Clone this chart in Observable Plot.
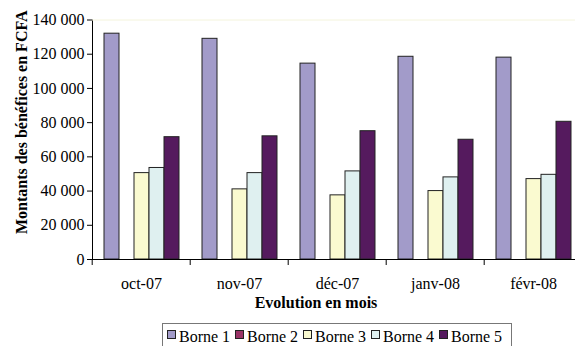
<!DOCTYPE html>
<html>
<head>
<meta charset="utf-8">
<script src="https://cdn.jsdelivr.net/npm/d3@7"></script>
<script src="https://cdn.jsdelivr.net/npm/@observablehq/plot@0.6"></script>
<style>
  html, body { margin: 0; padding: 0; background: #fff; }
  #wrap { position: relative; width: 575px; height: 346px; overflow: hidden;
          font-family: "Liberation Serif", serif; color: #000; }
  #wrap svg { position: absolute; left: 0; top: 0; font-family: "Liberation Serif", serif !important; }
  #wrap svg text { font-family: "Liberation Serif", serif !important; }
  .xtitle { position: absolute; left: 0; width: 632px; top: 294.6px; text-align: center;
            font-weight: bold; font-size: 16px; line-height: 16px; white-space: nowrap; }
  .legend { position: absolute; left: 161.5px; top: 322.5px; width: 350px; height: 30px;
            box-sizing: border-box; border: 1px solid #777; background: #fff;
            padding: 5.1px 0 0 4.5px; font-size: 16px; line-height: 16px; white-space: nowrap; }
  .legend .item { display: inline-block; margin-right: 4.9px; }
  .legend .sw { display: inline-block; width: 9px; height: 9px; box-sizing: border-box;
                border: 1px solid #222; margin-right: 3px; vertical-align: 3px; }
</style>
</head>
<body>
<div id="wrap"></div>
<script>
// Monthly profit per terminal (FCFA)
const months = ["oct-07", "nov-07", "déc-07", "janv-08", "févr-08"];
const series = ["Borne 1", "Borne 2", "Borne 3", "Borne 4", "Borne 5"];
const borne1 = [132000, 129000, 114500, 118500, 118000];
const borne2 = [0, 0, 0, 0, 0];
const borne3 = [50500, 41000, 37500, 40000, 47000];
const borne4 = [53500, 50500, 51500, 48000, 49500];
const borne5 = [71500, 72000, 75000, 70000, 80500];
const yTicks = [0, 20000, 40000, 60000, 80000, 100000, 120000, 140000];
const colors = ["#a29bc9", "#993366", "#fafad0", "#dff0f0", "#551a5e"];

const yTitle = "Montants des bénéfices en FCFA";
const xTitle = "Evolution en mois";

const values = [borne1, borne2, borne3, borne4, borne5];
const rows = months.flatMap((m, i) => series.map((s, j) => ({month: m, serie: s, value: values[j][i]})));

const fmt = d => d3.format(",")(d).replace(/,/g, " ");

const width = 575, marginLeft = 90, marginRight = -8;
const step = (width - marginLeft - marginRight) / months.length;

const chart = Plot.plot({
  width,
  height: 295,
  marginLeft,
  marginRight,
  marginTop: 19.5,
  marginBottom: 36,
  style: {fontFamily: "Liberation Serif, serif", fontSize: "16px", color: "#000", background: "white"},
  fx: {domain: months, padding: 0, label: null},
  x: {domain: series, paddingInner: 0, paddingOuter: 0.745, axis: null},
  y: {domain: [0, 140000], ticks: yTicks, tickFormat: fmt, tickSize: 5, tickPadding: 3, line: true, label: null},
  color: {domain: series, range: colors},
  marks: [
    Plot.ruleY([140000], {stroke: "#f4f4dc"}),
    Plot.barY(rows, {fx: "month", x: "serie", y: "value", fill: "serie",
                     stroke: "#222", strokeWidth: 1, filter: d => d.value > 0}),
    Plot.ruleY([0], {stroke: "#000"}),
    // category boundary ticks
    Plot.axisFx({anchor: "bottom", tickSize: 6, tickFormat: () => "", dx: -step / 2, label: null}),
    // month labels
    Plot.axisFx({anchor: "bottom", tickSize: 0, tickPadding: 18, label: null}),
    Plot.text([months[0]], {fx: d => d, text: () => yTitle, frameAnchor: "left", textAnchor: "middle",
                            lineAnchor: "middle", rotate: -90, dx: -71, dy: -17.5,
                            fontWeight: "bold", fontSize: 16})
  ]
});

const wrap = document.getElementById("wrap");
wrap.appendChild(chart);

const xt = document.createElement("div");
xt.className = "xtitle";
xt.textContent = xTitle;
wrap.appendChild(xt);

const legend = document.createElement("div");
legend.className = "legend";
series.forEach((s, i) => {
  const item = document.createElement("span");
  item.className = "item";
  const sw = document.createElement("span");
  sw.className = "sw";
  sw.style.background = colors[i];
  item.appendChild(sw);
  item.appendChild(document.createTextNode(s));
  legend.appendChild(item);
});
wrap.appendChild(legend);
</script>
</body>
</html>
